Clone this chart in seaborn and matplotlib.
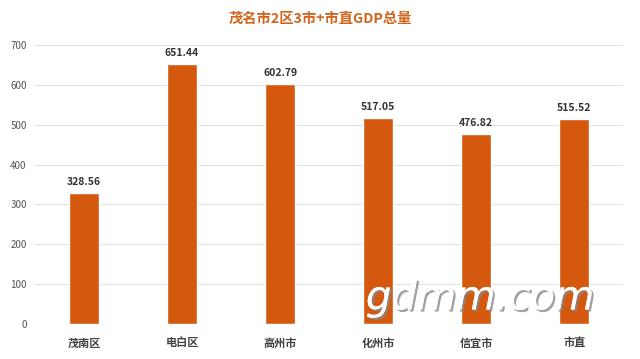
import matplotlib
matplotlib.use('Agg')
import matplotlib.pyplot as plt
import matplotlib.patheffects as pe
import seaborn as sns
import pandas as pd

# 茂名市各区县GDP
regions = ['茂南区', '电白区', '高州市', '化州市', '信宜市', '市直']
gdp = [328.56, 651.44, 602.79, 517.05, 476.82, 515.52]
yticks = [0, 100, 200, 300, 400, 500, 600, 700]

df = pd.DataFrame({'region': regions, 'gdp': gdp})

sns.set_theme(style='white')
plt.rcParams['font.family'] = ['Noto Sans CJK SC', 'DejaVu Sans']

fig = plt.figure(figsize=(6.4, 3.59), dpi=100)
ax = fig.add_axes([0.0547, 0.0975, 0.919, 0.777])

sns.barplot(data=df, x='region', y='gdp', color='#D4590F', saturation=1,
            width=0.31, ax=ax, zorder=3)

for i, v in enumerate(gdp):
    ax.text(i, v + 15, f'{v:.2f}', ha='center', va='bottom', fontsize=7.5,
            fontweight='bold', color='#333333')

ax.set_ylim(0, 700)
ax.set_yticks(yticks)
ax.yaxis.grid(True, color='#E3E3E3', linewidth=0.8, zorder=0)
ax.set_axisbelow(True)
for s in ax.spines.values():
    s.set_visible(False)
ax.axhline(0, color='#D9D9D9', linewidth=0.8, zorder=4)
ax.set_xlabel('')
ax.set_ylabel('')
ax.tick_params(axis='y', labelsize=7, colors='#555555', length=0, pad=6)
ax.tick_params(axis='x', labelsize=8, colors='#404040', length=0, pad=9)
for lbl in ax.get_xticklabels():
    lbl.set_fontweight('bold')
ax.set_xlim(-0.5, 5.5)

fig.text(0.5, 0.948, '茂名市2区3市+市直GDP总量', ha='center', va='center',
         fontsize=10.3, fontweight='bold', color='#D0651E')

fig.text(0.75, 0.17, 'gdmm.com', ha='center', va='center', fontsize=29,
         style='italic', color='white', family='DejaVu Sans',
         path_effects=[pe.withSimplePatchShadow(offset=(1.5, -1.5),
                                                shadow_rgbFace='#888888', alpha=0.8),
                       pe.Normal()], zorder=10)

fig.savefig('out.png', dpi=100)
